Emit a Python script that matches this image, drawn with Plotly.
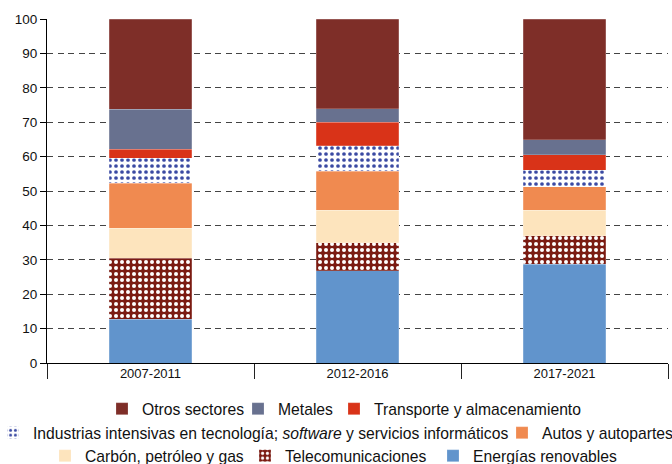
import plotly.graph_objects as go

periodos = ["2007-2011", "2012-2016", "2017-2021"]

energias = [12.7, 26.8, 28.7]
telecom = [17.7, 8.1, 8.3]
carbon = [8.8, 9.5, 7.4]
autos = [13.0, 11.4, 6.8]
industrias = [7.3, 7.3, 4.9]
transporte = [2.7, 6.9, 4.4]
metales = [11.6, 3.9, 4.4]
otros = [26.2, 26.1, 35.1]

FONT = "Liberation Sans, Arial, sans-serif"

# plot area in px (for placing the legend rows)
L, T, W, H = 47, 19, 621, 344


def px_x(px):
    return (px - L) / W


def px_y(px):
    return (T + H - px) / H


fig = go.Figure()

# apilado de abajo hacia arriba; (nombre, valores, color, patrón, leyenda, inicio texto px, centro fila px)
series = [
    ("Energías renovables", energias, "#6194cc", None, "legend8", 473, 456),
    ("Telecomunicaciones", telecom, "#7b1b12",
     dict(shape=".", fgcolor="white", bgcolor="#7b1b12", size=6, solidity=0.35, fillmode="replace"),
     "legend7", 285, 456),
    ("Carbón, petróleo y gas", carbon, "#fde4bd", None, "legend6", 85, 456),
    ("Autos y autopartes", autos, "#f08a50", None, "legend5", 542, 433),
    ("Industrias intensivas en tecnología; <i>software</i> y servicios informáticos", industrias, "white",
     dict(shape=".", fgcolor="#3b4aa3", bgcolor="white", size=6, solidity=0.3, fillmode="replace"),
     "legend4", 33, 433),
    ("Transporte y almacenamiento", transporte, "#d93318", None, "legend3", 374, 409),
    ("Metales", metales, "#68718f", None, "legend2", 278, 409),
    ("Otros sectores", otros, "#7e2e28", None, "legend", 142, 409),
]

TEXT_OFFSET = 40  # distance from legend box left edge to its text

legends = {}
for name, vals, color, pattern, leg, tx, ty in series:
    marker = dict(color=color, line=dict(color="rgba(255,255,255,0.4)", width=0.5))
    if pattern:
        marker["pattern"] = pattern
    fig.add_trace(go.Bar(x=periodos, y=vals, name=name, marker=marker,
                         width=0.4, legend=leg, showlegend=True))
    legends[leg] = dict(orientation="h", xanchor="left", x=px_x(tx - TEXT_OFFSET),
                        yanchor="middle", y=px_y(ty),
                        font=dict(family=FONT, size=15.7, color="#111"),
                        bgcolor="rgba(0,0,0,0)", borderwidth=0)

fig.update_layout(
    barmode="stack",
    width=672, height=464,
    showlegend=True,
    margin=dict(l=L, r=672 - L - W, t=T, b=464 - T - H, autoexpand=False),
    plot_bgcolor="white", paper_bgcolor="white",
    font=dict(family=FONT, color="#111"),
    **legends,
)

fig.update_xaxes(
    range=[-0.5, 2.5], showline=True, linecolor="black", linewidth=1,
    tickson="boundaries", ticks="outside", ticklen=15, tickcolor="#222",
    ticklabelstandoff=-2, tickfont=dict(size=13, color="#111"), showgrid=False,
    automargin=False,
)
fig.update_yaxes(
    range=[0, 100], dtick=10, showline=True, linecolor="black", linewidth=1,
    ticks="outside", ticklen=6, tickcolor="black", tickfont=dict(size=13.5, color="#111"),
    showgrid=True, gridcolor="#444", gridwidth=1, griddash="6px,4.5px",
    zeroline=False, automargin=False,
)

# la página por defecto deja 8px de margen en <body>
fig.write_html("out.html", config={"displayModeBar": False},
               post_script="document.body.style.margin='0';")
